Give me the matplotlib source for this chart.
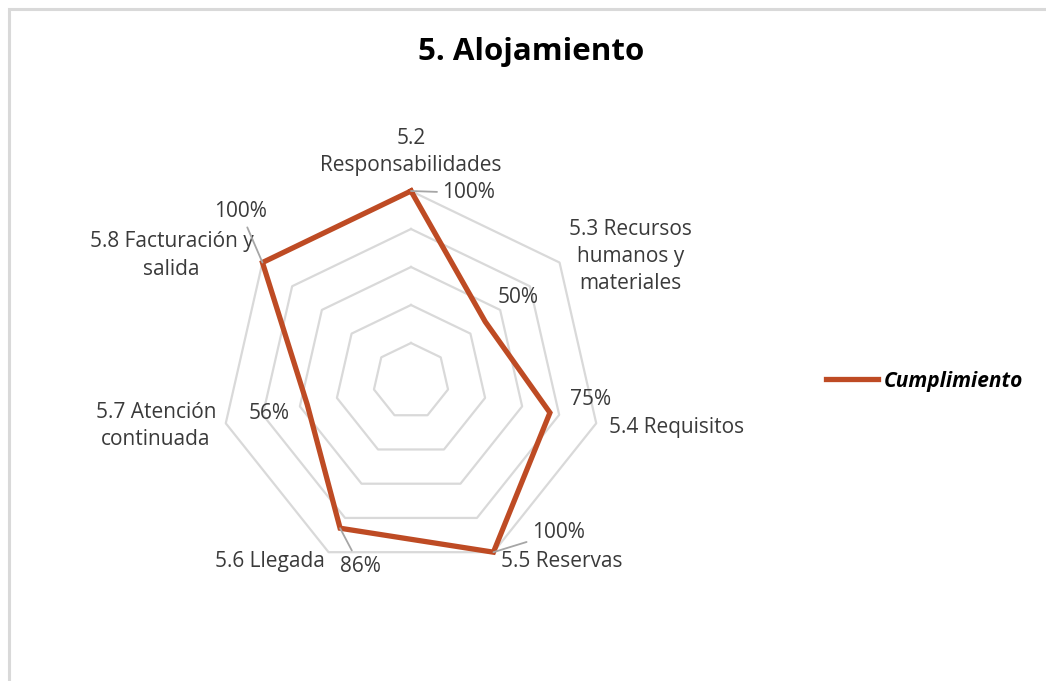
import numpy as np
import matplotlib
matplotlib.use("Agg")
import matplotlib.pyplot as plt
from matplotlib.patches import Rectangle

plt.rcParams['font.family'] = ['Open Sans', 'DejaVu Sans']

# categorias del radar y porcentaje de cumplimiento
categorias = ["5.2\nResponsabilidades", "5.3 Recursos\nhumanos y\nmateriales",
              "5.4 Requisitos", "5.5 Reservas", "5.6 Llegada",
              "5.7 Atención\ncontinuada", "5.8 Facturación y\nsalida"]
cumplimiento = [100, 50, 75, 100, 86, 56, 100]
niveles = [20, 40, 60, 80, 100]

# desplazamientos (px) de etiquetas respecto al vértice / punto
off_cat = [(0, 39), (71, 6), (80, -4), (68, -9), (-59, -9), (-70, -3), (-91, 7)]
off_val = [(58, -2), (33, 24), (41, 13), (65, 20), (20, -38), (-38, -9), (-22, 51)]
guia = [True, False, False, True, True, False, True]

color = "#BE4B24"
gris = "#D9D9D9"
texto = "#3A3A3A"

W, H = 1046, 681
fig = plt.figure(figsize=(W / 100, H / 100), dpi=100)
fig.patches.append(Rectangle((9 / W, -0.1), 1.2, 1.1 - 9 / H, transform=fig.transFigure,
                             fill=False, edgecolor=gris, linewidth=2.2))

cx, cy, R = 411, 381, 190
ax = fig.add_axes([(cx - R) / W, (H - cy - R) / H, 2 * R / W, 2 * R / H], projection='polar')
ax.set_theta_offset(np.pi / 2)
ax.set_theta_direction(-1)
ax.set_ylim(0, 100)
ax.grid(False)
ax.set_xticks([])
ax.set_yticks([])
ax.spines['polar'].set_visible(False)
ax.patch.set_alpha(0)

n = len(categorias)
ang = np.arange(n) * 2 * np.pi / n
ang_c = np.append(ang, ang[0])

for nv in niveles:
    ax.plot(ang_c, [nv] * (n + 1), color=gris, lw=1.6, zorder=1, clip_on=False)

vals = np.append(cumplimiento, cumplimiento[0])
ax.plot(ang_c, vals, color=color, lw=3.8, solid_joinstyle='miter', zorder=3,
        clip_on=False, label="Cumplimiento")

for i, cat in enumerate(categorias):
    ax.annotate(cat, xy=(ang[i], 100), xytext=off_cat[i], textcoords='offset pixels',
                ha='center', va='center', fontsize=15, color=texto, linespacing=1.4,
                annotation_clip=False)

for i, v in enumerate(cumplimiento):
    props = dict(arrowstyle='-', color='#A6A6A6', lw=1.3, shrinkA=2, shrinkB=0) if guia[i] else None
    ax.annotate(f"{v}%", xy=(ang[i], v), xytext=off_val[i], textcoords='offset pixels',
                ha='center', va='center', fontsize=15, color=texto,
                arrowprops=props, annotation_clip=False, zorder=4)

fig.text(531 / W, 1 - 52 / H, "5. Alojamiento", ha='center', va='center',
         fontsize=22.5, fontweight='bold', color='black')

leg = fig.legend(loc='center left', bbox_to_anchor=(826 / W, 1 - 381 / H), frameon=False,
                 borderpad=0, borderaxespad=0, handlelength=2.5, handletextpad=0.28,
                 prop=dict(size=15, weight='bold', style='italic'))
for t in leg.get_texts():
    t.set_color('black')

fig.savefig("out.png", dpi=100)
